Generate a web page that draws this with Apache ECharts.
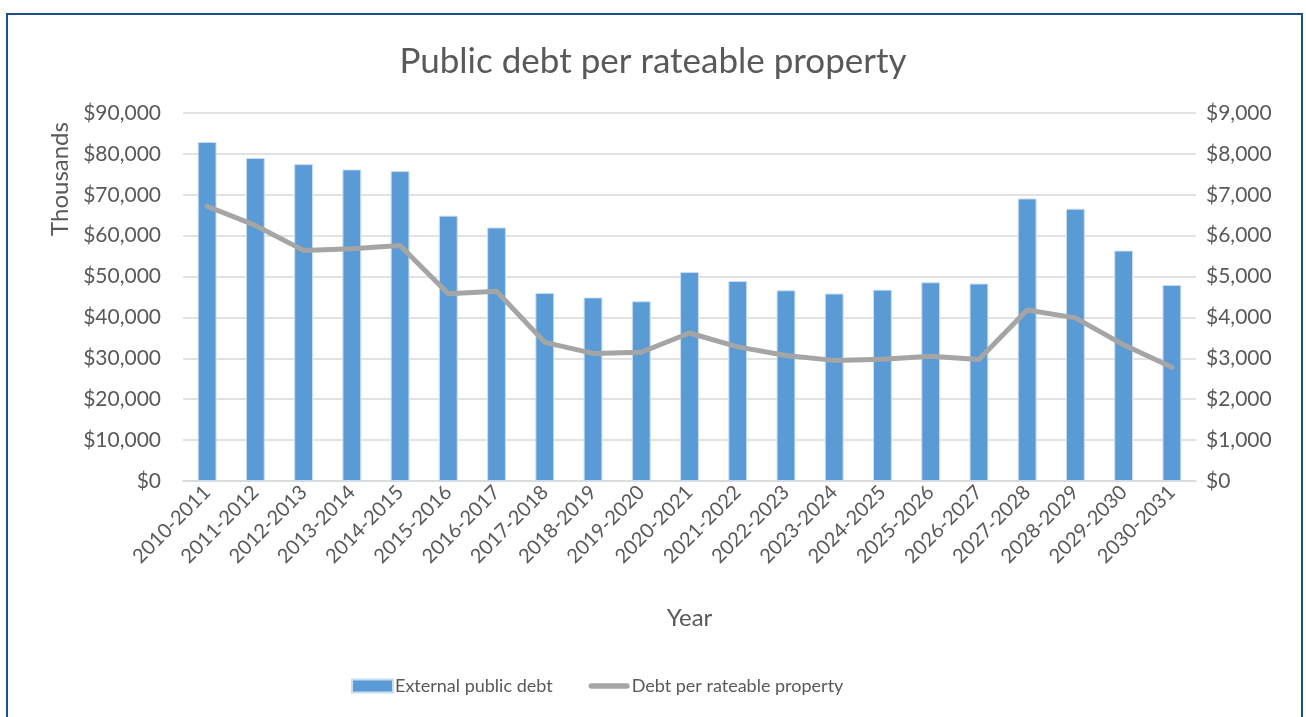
<!DOCTYPE html>
<html>
<head>
    <meta charset="utf-8">
    <title>Public debt per rateable property</title>
    <script src="https://cdn.jsdelivr.net/npm/echarts@6/dist/echarts.min.js"></script>
    <style>
        html, body { margin: 0; padding: 0; background: #fff; }
    </style>
</head>
<body>
<div id="chart" style="width: 1306px; height: 717px;"></div>

<script>
    // 数据
    var years = ['2010-2011', '2011-2012', '2012-2013', '2013-2014', '2014-2015', '2015-2016', '2016-2017',
        '2017-2018', '2018-2019', '2019-2020', '2020-2021', '2021-2022', '2022-2023', '2023-2024',
        '2024-2025', '2025-2026', '2026-2027', '2027-2028', '2028-2029', '2029-2030', '2030-2031'];
    var externalDebt = [82900, 79000, 77500, 76200, 75800, 64900, 62000, 46000, 44900, 43950, 51100,
        48900, 46650, 45850, 46800, 48600, 48300, 69100, 66600, 56350, 47950];
    var debtPerProperty = [6720, 6250, 5640, 5680, 5760, 4580, 4640, 3390, 3120, 3150, 3620,
        3280, 3070, 2950, 2980, 3050, 2970, 4180, 3990, 3330, 2780];

    var font = 'Lato, "Open Sans", sans-serif';
    var textColor = '#595959';

    var chart = echarts.init(document.getElementById('chart'));

    function money(v) {
        return '$' + v.toLocaleString('en-US');
    }

    var option = {
        animation: false,
        textStyle: { fontFamily: font },
        title: {
            text: 'Public debt per rateable property',
            left: 'center',
            top: 39,
            textStyle: { fontSize: 35, fontWeight: 'normal', color: textColor, fontFamily: font }
        },
        graphic: [{
            type: 'rect',
            shape: { x: 7, y: 14, width: 1295, height: 720 },
            style: { fill: 'none', stroke: '#1F4E89', lineWidth: 2 }
        }, {
            // y 轴标题 Thousands（靠上放置）
            type: 'text',
            x: 60,
            y: 179,
            rotation: Math.PI / 2,
            style: {
                text: 'Thousands',
                fontSize: 24,
                fontFamily: font,
                fill: textColor,
                align: 'center',
                verticalAlign: 'middle'
            }
        }],
        legend: {
            bottom: 17,
            left: 346,
            itemGap: 36,
            itemWidth: 41,
            itemHeight: 13,
            textStyle: { fontSize: 18, color: textColor, fontFamily: font, padding: [0, 0, 0, -3] },
            data: [
                { name: 'External public debt', icon: 'rect' },
                { name: 'Debt per rateable property', icon: 'path://M3,0 H43 A3,3 0 0 1 43,6 H3 A3,3 0 0 1 3,0 Z' }
            ]
        },
        grid: { left: 183, right: 110, top: 113, bottom: 236 },
        xAxis: {
            type: 'category',
            data: years,
            name: 'Year',
            nameLocation: 'middle',
            nameGap: 125,
            nameTextStyle: { fontSize: 24, color: textColor },
            axisLine: { lineStyle: { color: '#D9D9D9', width: 1.5 } },
            axisTick: { show: false },
            axisLabel: { rotate: 45, fontSize: 20, color: textColor, margin: 8, interval: 0 }
        },
        yAxis: [{
            type: 'value',
            min: 0,
            max: 90000,
            interval: 10000,
            axisLabel: { formatter: money, fontSize: 21, color: textColor, margin: 22 },
            axisLine: { show: false },
            axisTick: { show: false },
            splitLine: { lineStyle: { color: '#D9D9D9', width: 1.5 } }
        }, {
            type: 'value',
            min: 0,
            max: 9000,
            interval: 1000,
            axisLabel: { formatter: money, fontSize: 21, color: textColor, margin: 10 },
            axisLine: { show: false },
            axisTick: { show: false },
            splitLine: { show: false }
        }],
        series: [{
            name: 'External public debt',
            type: 'bar',
            data: externalDebt,
            barWidth: '39%',
            itemStyle: { color: '#5B9BD5', borderColor: '#C9DDF2', borderWidth: 1 }
        }, {
            name: 'Debt per rateable property',
            type: 'line',
            yAxisIndex: 1,
            data: debtPerProperty,
            symbol: 'none',
            lineStyle: { color: '#A5A5A5', width: 5, cap: 'round', join: 'round' },
            itemStyle: { color: '#A5A5A5' }
        }]
    };

    chart.setOption(option);
</script>
</body>
</html>
